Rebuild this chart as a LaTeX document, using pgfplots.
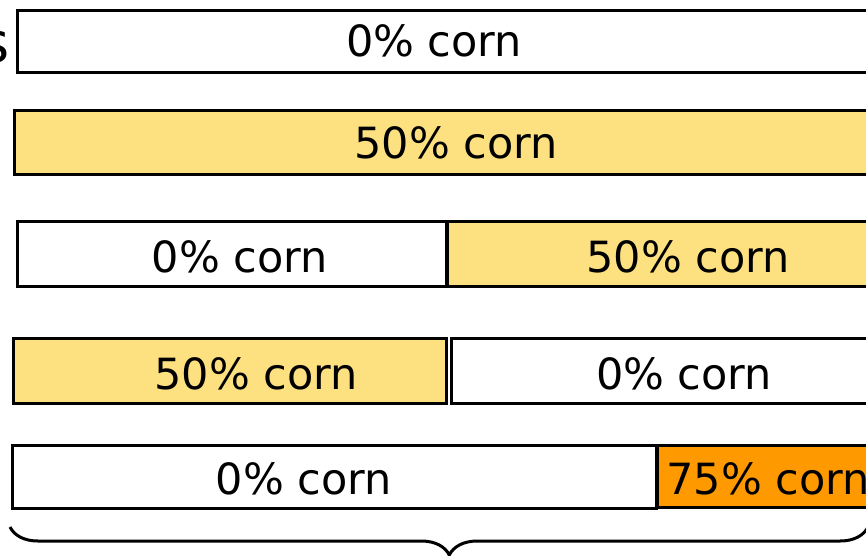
\documentclass[border=0pt]{standalone}
\usepackage{pgfplots}
\pgfplotsset{compat=1.18}
\usepackage{fontspec}
\setmainfont{DejaVu Sans}
\usetikzlibrary{decorations.pathreplacing}
\definecolor{cornyellow}{RGB}{253,225,128}
\definecolor{cornorange}{RGB}{255,153,0}
\tikzset{lbl/.style={font=\fontsize{43}{43}\selectfont, anchor=base, inner sep=0pt},
         bx/.style={draw=black, line width=3pt, line join=miter}}
\begin{document}
\begin{tikzpicture}
\begin{axis}[
  scale only axis, width=866pt, height=555pt,
  xmin=0, xmax=866, ymin=0, ymax=555, y dir=reverse,
  hide axis, clip=true,
]
% row 1
\addplot[bx, fill=white] coordinates {(17,10) (900,10) (900,72) (17,72)} -- cycle;
% row 2
\addplot[bx, fill=cornyellow] coordinates {(14,110) (900,110) (900,174) (14,174)} -- cycle;
% row 3
\addplot[bx, fill=white] coordinates {(17,221) (446,221) (446,286) (17,286)} -- cycle;
\addplot[bx, fill=cornyellow] coordinates {(447,221) (900,221) (900,286) (447,286)} -- cycle;
% row 4
\addplot[bx, fill=cornyellow] coordinates {(13,338) (446,338) (446,403) (13,403)} -- cycle;
\addplot[bx, fill=white] coordinates {(451,338) (900,338) (900,403) (451,403)} -- cycle;
% row 5
\addplot[bx, fill=white] coordinates {(12,445) (656,445) (656,508) (12,508)} -- cycle;
\addplot[bx, fill=cornorange] coordinates {(657,445) (900,445) (900,507) (657,507)} -- cycle;

\node[lbl] at (axis cs:434,56) {0\% corn};
\node[lbl] at (axis cs:456,158) {50\% corn};
\node[lbl] at (axis cs:240,272) {0\% corn};
\node[lbl] at (axis cs:688,272) {50\% corn};
\node[lbl] at (axis cs:256,389) {50\% corn};
\node[lbl] at (axis cs:684,389) {0\% corn};
\node[lbl] at (axis cs:304,494) {0\% corn};
\node[lbl] at (axis cs:768,494) {75\% corn};
\node[font=\fontsize{56}{56}\selectfont, anchor=base east, inner sep=0pt] at (axis cs:10,62) {s};

\draw[line width=3pt, decorate, decoration={brace, mirror, amplitude=28pt, aspect=0.512}]
  (axis cs:10,527) -- (axis cs:868,527);
\end{axis}
\pgfresetboundingbox
\path (current axis.south west) rectangle (current axis.north east);
\end{tikzpicture}
\end{document}
